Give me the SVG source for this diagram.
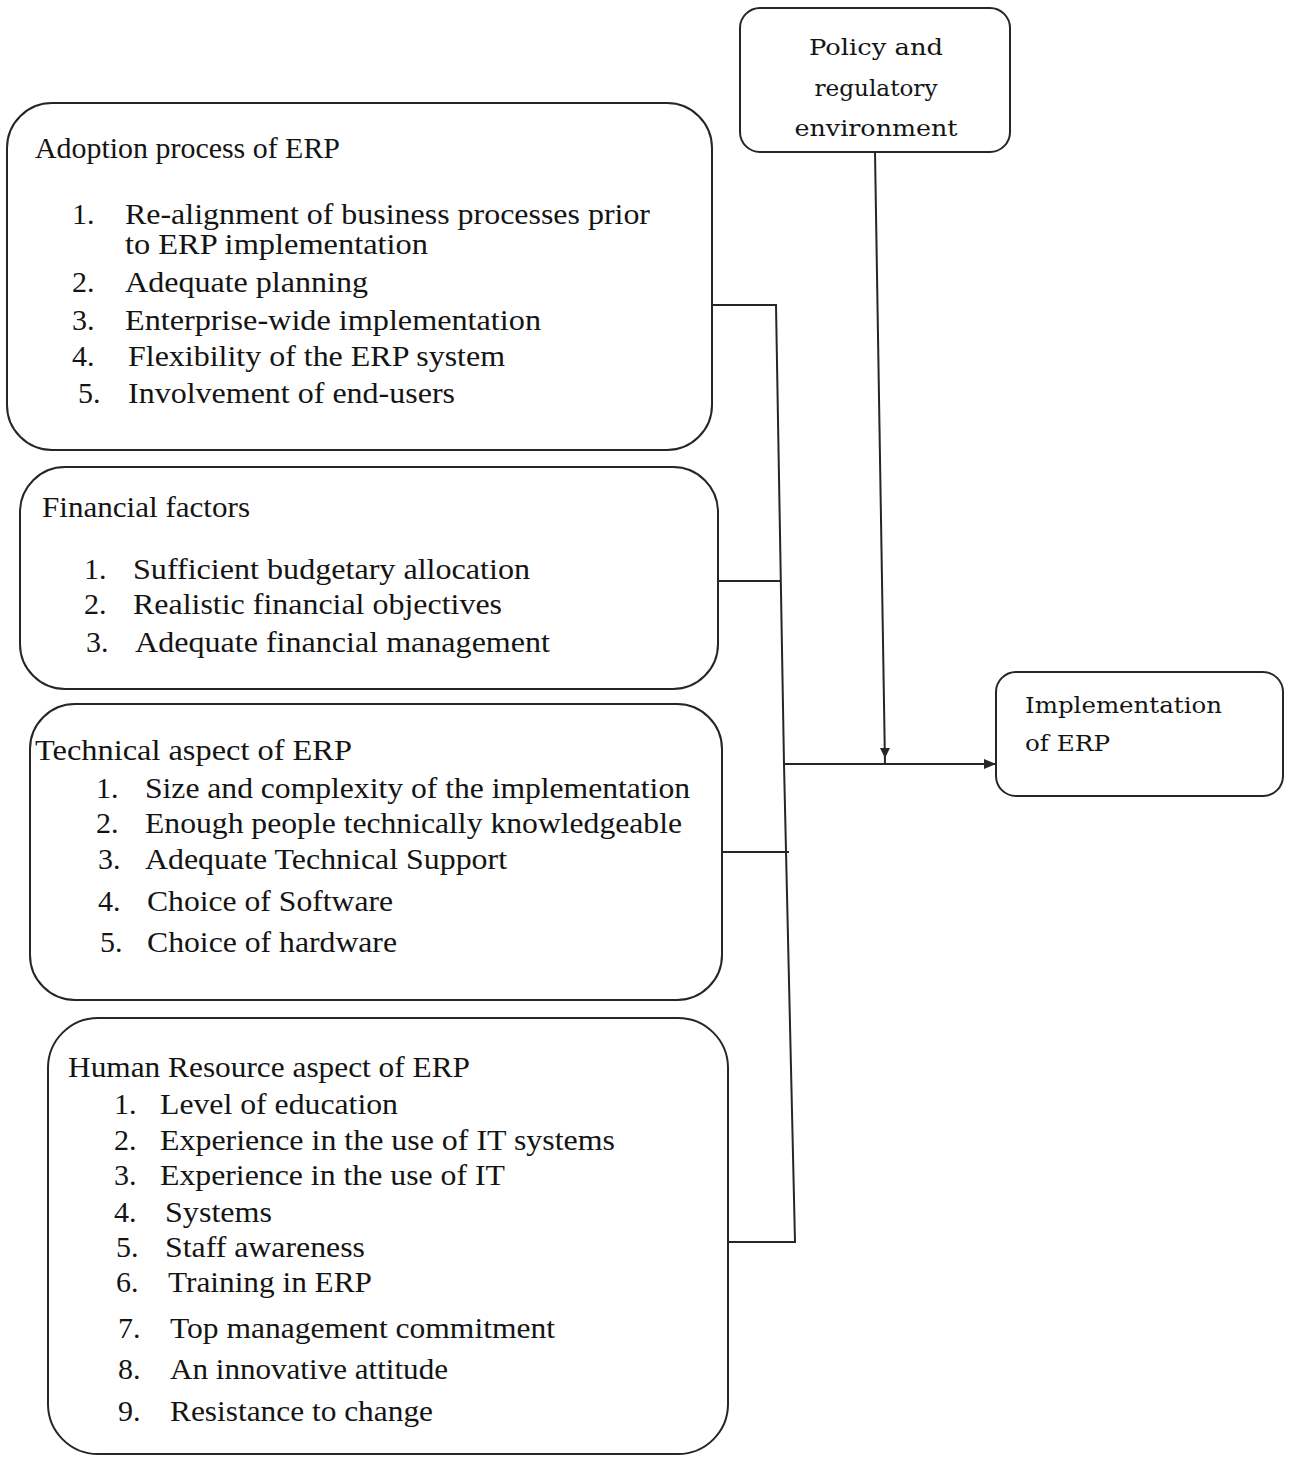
<svg xmlns="http://www.w3.org/2000/svg" width="1291" height="1457" viewBox="0 0 1291 1457">
<defs>
<style>
.box{fill:none;stroke:#262626;stroke-width:2}
.t{font-family:"Liberation Serif","Times New Roman",serif;font-size:30px;fill:#141414}
.w{font-family:"DejaVu Serif","Liberation Serif",serif;font-size:23px;fill:#141414}
.ln{fill:none;stroke:#262626;stroke-width:2}
</style>
<marker id="arr" markerWidth="12" markerHeight="10" refX="11" refY="5" orient="auto" markerUnits="userSpaceOnUse">
<path d="M0,0 L12,5 L0,10 z" fill="#262626"/>
</marker>
</defs>
<rect width="1291" height="1457" fill="#ffffff"/>

<g id="policy">
<rect class="box" x="740" y="8" width="270" height="144" rx="20"/>
<text class="w" x="876" y="55" text-anchor="middle" textLength="134" lengthAdjust="spacingAndGlyphs">Policy and</text>
<text class="w" x="876" y="96" text-anchor="middle" textLength="123" lengthAdjust="spacingAndGlyphs">regulatory</text>
<text class="w" x="876" y="136" text-anchor="middle" textLength="163" lengthAdjust="spacingAndGlyphs">environment</text>
</g>

<g id="implementation">
<rect class="box" x="996" y="672" width="287" height="124" rx="20"/>
<text class="w" x="1025" y="713" textLength="197" lengthAdjust="spacingAndGlyphs">Implementation</text>
<text class="w" x="1025" y="751" textLength="85" lengthAdjust="spacingAndGlyphs">of ERP</text>
</g>

<g id="adoption">
<rect class="box" x="7" y="103" width="705" height="347" rx="45"/>
<text class="t" x="35" y="158" textLength="305" lengthAdjust="spacingAndGlyphs">Adoption process of ERP</text>
<text class="t" x="72" y="224">1.</text>
<text class="t" x="125" y="224" textLength="525" lengthAdjust="spacingAndGlyphs">Re-alignment of business processes prior</text>
<text class="t" x="125" y="254" textLength="303" lengthAdjust="spacingAndGlyphs">to ERP implementation</text>
<text class="t" x="72" y="292">2.</text>
<text class="t" x="125" y="292" textLength="243" lengthAdjust="spacingAndGlyphs">Adequate planning</text>
<text class="t" x="72" y="330">3.</text>
<text class="t" x="125" y="330" textLength="416" lengthAdjust="spacingAndGlyphs">Enterprise-wide implementation</text>
<text class="t" x="72" y="366">4.</text>
<text class="t" x="128" y="366" textLength="377" lengthAdjust="spacingAndGlyphs">Flexibility of the ERP system</text>
<text class="t" x="78" y="403">5.</text>
<text class="t" x="128" y="403" textLength="327" lengthAdjust="spacingAndGlyphs">Involvement of end-users</text>
</g>

<g id="financial">
<rect class="box" x="20" y="467" width="698" height="222" rx="45"/>
<text class="t" x="42" y="517" textLength="208" lengthAdjust="spacingAndGlyphs">Financial factors</text>
<text class="t" x="84" y="579">1.</text>
<text class="t" x="133" y="579" textLength="397" lengthAdjust="spacingAndGlyphs">Sufficient budgetary allocation</text>
<text class="t" x="84" y="614">2.</text>
<text class="t" x="133" y="614" textLength="369" lengthAdjust="spacingAndGlyphs">Realistic financial objectives</text>
<text class="t" x="86" y="652">3.</text>
<text class="t" x="135" y="652" textLength="415" lengthAdjust="spacingAndGlyphs">Adequate financial management</text>
</g>

<g id="technical">
<rect class="box" x="30" y="704" width="692" height="296" rx="45"/>
<text class="t" x="35" y="760" textLength="317" lengthAdjust="spacingAndGlyphs">Technical aspect of ERP</text>
<text class="t" x="96" y="798">1.</text>
<text class="t" x="145" y="798" textLength="545" lengthAdjust="spacingAndGlyphs">Size and complexity of the implementation</text>
<text class="t" x="96" y="833">2.</text>
<text class="t" x="145" y="833" textLength="537" lengthAdjust="spacingAndGlyphs">Enough people technically knowledgeable</text>
<text class="t" x="98" y="869">3.</text>
<text class="t" x="145" y="869" textLength="362" lengthAdjust="spacingAndGlyphs">Adequate Technical Support</text>
<text class="t" x="98" y="911">4.</text>
<text class="t" x="147" y="911" textLength="246" lengthAdjust="spacingAndGlyphs">Choice of Software</text>
<text class="t" x="100" y="952">5.</text>
<text class="t" x="147" y="952" textLength="250" lengthAdjust="spacingAndGlyphs">Choice of hardware</text>
</g>

<g id="human-resource">
<rect class="box" x="48" y="1018" width="680" height="436" rx="50"/>
<text class="t" x="68" y="1077" textLength="402" lengthAdjust="spacingAndGlyphs">Human Resource aspect of ERP</text>
<text class="t" x="114" y="1114">1.</text>
<text class="t" x="160" y="1114" textLength="238" lengthAdjust="spacingAndGlyphs">Level of education</text>
<text class="t" x="114" y="1150">2.</text>
<text class="t" x="160" y="1150" textLength="455" lengthAdjust="spacingAndGlyphs">Experience in the use of IT systems</text>
<text class="t" x="114" y="1185">3.</text>
<text class="t" x="160" y="1185" textLength="345" lengthAdjust="spacingAndGlyphs">Experience in the use of IT</text>
<text class="t" x="114" y="1222">4.</text>
<text class="t" x="165" y="1222" textLength="107" lengthAdjust="spacingAndGlyphs">Systems</text>
<text class="t" x="116" y="1257">5.</text>
<text class="t" x="165" y="1257" textLength="200" lengthAdjust="spacingAndGlyphs">Staff awareness</text>
<text class="t" x="116" y="1292">6.</text>
<text class="t" x="168" y="1292" textLength="204" lengthAdjust="spacingAndGlyphs">Training in ERP</text>
<text class="t" x="118" y="1338">7.</text>
<text class="t" x="170" y="1338" textLength="385" lengthAdjust="spacingAndGlyphs">Top management commitment</text>
<text class="t" x="118" y="1379">8.</text>
<text class="t" x="170" y="1379" textLength="278" lengthAdjust="spacingAndGlyphs">An innovative attitude</text>
<text class="t" x="118" y="1421">9.</text>
<text class="t" x="170" y="1421" textLength="263" lengthAdjust="spacingAndGlyphs">Resistance to change</text>
</g>

<g id="connectors">
<polyline class="ln" points="712,305 776,305 784,764 795,1242 728,1242"/>
<line class="ln" x1="718" y1="581" x2="781" y2="581"/>
<line class="ln" x1="722" y1="852" x2="789" y2="852"/>
<line class="ln" x1="784" y1="764" x2="995" y2="764" marker-end="url(#arr)"/>
<line class="ln" x1="875" y1="152" x2="885" y2="764"/>
<path d="M880,748 L890,748 L885,758 z" fill="#262626"/>
</g>
</svg>
